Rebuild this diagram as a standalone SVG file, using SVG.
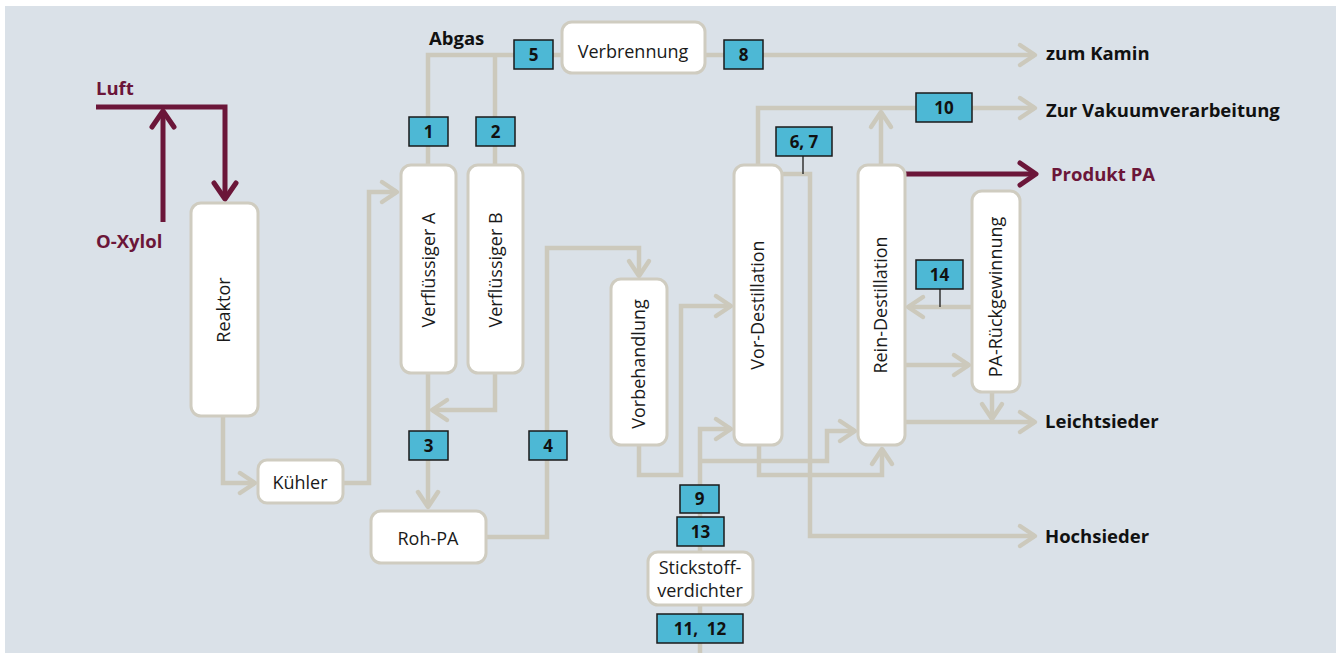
<svg xmlns="http://www.w3.org/2000/svg" width="1336" height="653" viewBox="0 0 1336 653">
<defs>
<style>
.bg{fill:#dae1e8}
.node{fill:#ffffff;stroke:#cfccc0;stroke-width:3}
.nt{font-family:"Open Sans","Noto Sans",sans-serif;font-size:18px;fill:#1a1a1a;text-anchor:middle}
.lb{fill:#4db8d5;stroke:#1a1a1a;stroke-width:1.5}
.lt{font-family:"Open Sans","Noto Sans",sans-serif;font-size:17px;font-weight:bold;fill:#111;text-anchor:middle}
.ot{font-family:"Open Sans","Noto Sans",sans-serif;font-size:18.5px;font-weight:bold;fill:#111}
.pt{font-family:"Open Sans","Noto Sans",sans-serif;font-size:18.5px;font-weight:bold;fill:#6b1639}
.c{fill:none;stroke:#ccc9bc;stroke-width:4.5;stroke-linejoin:miter}
.p{fill:none;stroke:#6b1639;stroke-width:5}
.thin{fill:none;stroke:#333;stroke-width:1.5}
</style>
<marker id="ag" markerUnits="userSpaceOnUse" markerWidth="40" markerHeight="40" viewBox="-20 -20 40 40" refX="0" refY="0" orient="auto">
<path d="M-15,-10 L0,0 L-15,10" fill="none" stroke="#ccc9bc" stroke-width="4.5" stroke-linecap="round" stroke-linejoin="round"/>
</marker>
<marker id="ap" markerUnits="userSpaceOnUse" markerWidth="40" markerHeight="40" viewBox="-20 -20 40 40" refX="0" refY="0" orient="auto">
<path d="M-16,-11 L0,0 L-16,11" fill="none" stroke="#6b1639" stroke-width="5" stroke-linecap="round" stroke-linejoin="round"/>
</marker>
</defs>
<rect class="bg" x="5" y="6" width="1331" height="647"/>

<g id="connectors">
<path class="p" d="M96,107 H225 V199" marker-end="url(#ap)"/>
<path class="p" d="M163,222 V111" marker-end="url(#ap)"/>
<path class="c" d="M223,417 V483 H255" marker-end="url(#ag)"/>
<path class="c" d="M343,483 H369 V192 H397" marker-end="url(#ag)"/>
<path class="c" d="M428,165 V55 H514"/>
<path class="c" d="M495,165 V55"/>
<path class="c" d="M553,55 H562"/>
<path class="c" d="M705,55 H1035" marker-end="url(#ag)"/>
<path class="c" d="M495,373 V410 H432" marker-end="url(#ag)"/>
<path class="c" d="M428,373 V507" marker-end="url(#ag)"/>
<path class="c" d="M486,537 H547 V248 H639 V276" marker-end="url(#ag)"/>
<path class="c" d="M639,445 V475 H681 V306 H731" marker-end="url(#ag)"/>
<path class="c" d="M700,653 V429 H731" marker-end="url(#ag)"/>
<path class="c" d="M700,461 H827 V431 H855" marker-end="url(#ag)"/>
<path class="c" d="M759,445 V475 H882 V449" marker-end="url(#ag)"/>
<path class="c" d="M758,165 V108 H1035" marker-end="url(#ag)"/>
<path class="c" d="M782,174 H810 V536 H1035" marker-end="url(#ag)"/>
<path class="c" d="M881,165 V112" marker-end="url(#ag)"/>
<path class="p" d="M905,174 H1036" marker-end="url(#ap)"/>
<path class="c" d="M972,307 H908" marker-end="url(#ag)"/>
<path class="c" d="M905,365 H969" marker-end="url(#ag)"/>
<path class="c" d="M905,422 H1035" marker-end="url(#ag)"/>
<path class="c" d="M992,392 V419" marker-end="url(#ag)"/>
<path class="thin" d="M803,156 V174"/>
<path class="thin" d="M940,289 V307"/>
</g>

<g id="reaktor"><rect class="node" x="191" y="203" width="67" height="213" rx="10"/><text class="nt" transform="translate(230,310) rotate(-90)">Reaktor</text></g>
<g id="kuehler"><rect class="node" x="258" y="460" width="85" height="43" rx="9"/><text class="nt" x="300" y="489">Kühler</text></g>
<g id="verfluessiger-a"><rect class="node" x="401" y="165" width="55" height="208" rx="10"/><text class="nt" transform="translate(435,270) rotate(-90)">Verflüssiger A</text></g>
<g id="verfluessiger-b"><rect class="node" x="468" y="165" width="55" height="208" rx="10"/><text class="nt" transform="translate(502,270) rotate(-90)">Verflüssiger B</text></g>
<g id="verbrennung"><rect class="node" x="562" y="22" width="143" height="51" rx="10"/><text class="nt" x="633" y="58">Verbrennung</text></g>
<g id="roh-pa"><rect class="node" x="371" y="511" width="115" height="52" rx="10"/><text class="nt" x="428" y="545">Roh-PA</text></g>
<g id="vorbehandlung"><rect class="node" x="611" y="279" width="56" height="166" rx="10"/><text class="nt" transform="translate(645,364) rotate(-90)">Vorbehandlung</text></g>
<g id="vor-destillation"><rect class="node" x="734" y="165" width="48" height="280" rx="10"/><text class="nt" transform="translate(764,305) rotate(-90)">Vor-Destillation</text></g>
<g id="rein-destillation"><rect class="node" x="858" y="165" width="47" height="280" rx="10"/><text class="nt" transform="translate(887,305) rotate(-90)">Rein-Destillation</text></g>
<g id="pa-rueckgewinnung"><rect class="node" x="972" y="191" width="48" height="201" rx="10"/><text class="nt" transform="translate(1002,297) rotate(-90)">PA-Rückgewinnung</text></g>
<g id="stickstoffverdichter"><rect class="node" x="648" y="552" width="105" height="53" rx="10"/><text class="nt" x="700" y="574">Stickstoff-</text><text class="nt" x="700" y="597">verdichter</text></g>

<g id="labels">
<g id="l1"><rect class="lb" x="409" y="117" width="39" height="29"/><text class="lt" x="428.5" y="137.5">1</text></g>
<g id="l2"><rect class="lb" x="476" y="117" width="39" height="29"/><text class="lt" x="495.5" y="137.5">2</text></g>
<g id="l3"><rect class="lb" x="409" y="431" width="39" height="29"/><text class="lt" x="428.5" y="451.5">3</text></g>
<g id="l4"><rect class="lb" x="529" y="431" width="38" height="29"/><text class="lt" x="548" y="451.5">4</text></g>
<g id="l5"><rect class="lb" x="514" y="40" width="39" height="29"/><text class="lt" x="533.5" y="60.5">5</text></g>
<g id="l8"><rect class="lb" x="724" y="40" width="39" height="29"/><text class="lt" x="743.5" y="60.5">8</text></g>
<g id="l67"><rect class="lb" x="776" y="127" width="56" height="29"/><text class="lt" x="804" y="147.5">6, 7</text></g>
<g id="l10"><rect class="lb" x="916" y="93" width="56" height="29"/><text class="lt" x="944" y="113.5">10</text></g>
<g id="l14"><rect class="lb" x="916" y="260" width="47" height="29"/><text class="lt" x="939.5" y="280.5">14</text></g>
<g id="l9"><rect class="lb" x="680" y="485" width="39" height="28"/><text class="lt" x="699.5" y="505">9</text></g>
<g id="l13"><rect class="lb" x="677" y="517" width="47" height="29"/><text class="lt" x="700.5" y="537.5">13</text></g>
<g id="l1112"><rect class="lb" x="657" y="614" width="86" height="29"/><text class="lt" x="700" y="634.5" style="white-space:pre">11,  12</text></g>
</g>

<g id="texts">
<text class="pt" x="96" y="95">Luft</text>
<text class="pt" x="96" y="248">O-Xylol</text>
<text class="ot" x="429" y="45">Abgas</text>
<text class="ot" x="1046" y="60">zum Kamin</text>
<text class="ot" x="1046" y="117">Zur Vakuumverarbeitung</text>
<text class="pt" x="1051" y="181">Produkt PA</text>
<text class="ot" x="1045" y="428">Leichtsieder</text>
<text class="ot" x="1045" y="543">Hochsieder</text>
</g>
</svg>
